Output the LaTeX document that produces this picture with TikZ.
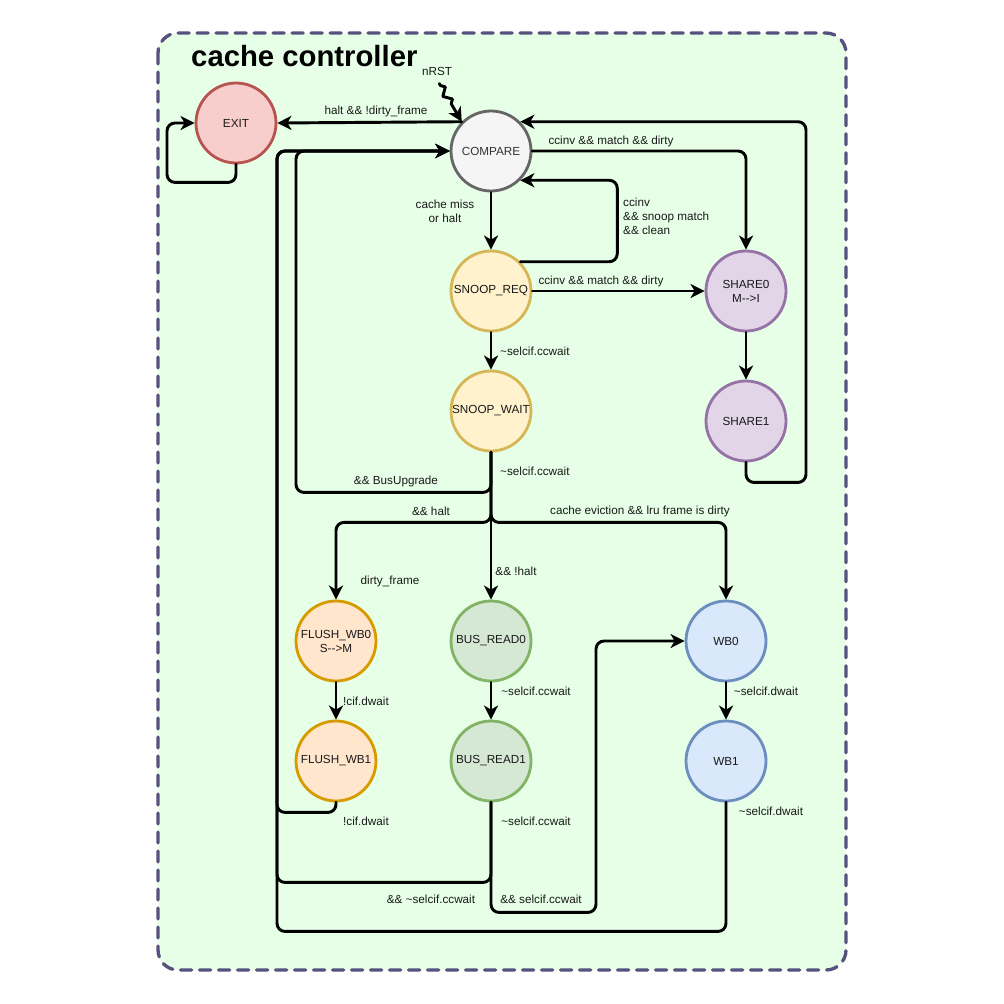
\documentclass[tikz,border=0pt]{standalone}
\usepackage{fontspec}
\setmainfont{Liberation Sans}
\usetikzlibrary{arrows.meta,decorations.pathmorphing}
\definecolor{bgfill}{HTML}{E6FFE6}
\definecolor{framec}{HTML}{56517E}
\definecolor{exitfill}{HTML}{F8CECC}\definecolor{exitdraw}{HTML}{B85450}
\definecolor{cmpfill}{HTML}{F5F5F5}\definecolor{cmpdraw}{HTML}{666666}
\definecolor{snpfill}{HTML}{FFF2CC}\definecolor{snpdraw}{HTML}{D6B656}
\definecolor{shrfill}{HTML}{E1D5E7}\definecolor{shrdraw}{HTML}{9673A6}
\definecolor{flfill}{HTML}{FFE6CC}\definecolor{fldraw}{HTML}{D79B00}
\definecolor{brfill}{HTML}{D5E8D4}\definecolor{brdraw}{HTML}{82B366}
\definecolor{wbfill}{HTML}{DAE8FC}\definecolor{wbdraw}{HTML}{6C8EBF}
\begin{document}
\begin{tikzpicture}[x=0.3mm,y=-0.3mm,line cap=round,line join=round,>={Stealth[length=12pt,width=12pt,inset=3.5pt]},
	state/.style={circle,draw,line width=2.4pt,minimum size=24mm,inner sep=0pt,align=center,font=\fontsize{10}{12}\selectfont,text=black!90},
	trans/.style={->,line width=2.5pt,rounded corners=2.4mm},
	lbl/.style={inner sep=0pt,align=center,font=\fontsize{10}{12}\selectfont,text=black!90}]
	\useasboundingbox (0,0) rectangle (1004,1003);
	\draw[draw=framec,fill=bgfill,line width=1mm,dash pattern=on 3.3mm off 2.4mm,rounded corners=6mm] (158,33) rectangle (846,970);
	\node[anchor=base west,inner sep=0pt,font=\fontsize{25}{30}\selectfont\bfseries] (title) at (191,66) {cache controller};
	\node[state,fill=exitfill,draw=exitdraw] (exit) at (236,123) {EXIT};
	\node[state,fill=cmpfill,draw=cmpdraw,text=black!80] (cmp) at (491,151) {COMPARE};
	\node[state,fill=snpfill,draw=snpdraw] (sreq) at (491,291) {SNOOP\_REQ};
	\node[state,fill=snpfill,draw=snpdraw] (swait) at (491,411) {SNOOP\_WAIT};
	\node[state,fill=shrfill,draw=shrdraw] (sh0) at (746,291) {SHARE0\\M-{}->I};
	\node[state,fill=shrfill,draw=shrdraw] (sh1) at (746,421) {SHARE1};
	\node[state,fill=flfill,draw=fldraw] (fwb0) at (336,641) {FLUSH\_WB0\\S-{}->M};
	\node[state,fill=flfill,draw=fldraw] (fwb1) at (336,761) {FLUSH\_WB1};
	\node[state,fill=brfill,draw=brdraw] (br0) at (491,641) {BUS\_READ0};
	\node[state,fill=brfill,draw=brdraw] (br1) at (491,761) {BUS\_READ1};
	\node[state,fill=wbfill,draw=wbdraw] (wb0) at (726,641) {WB0};
	\node[state,fill=wbfill,draw=wbdraw] (wb1) at (726,761) {WB1};
	\node[lbl] (rst) at (437,71) {nRST};
	\draw[->,line width=2.5pt,decorate,decoration={zigzag,segment length=12pt,amplitude=3pt,pre length=2pt,post length=16pt}] ([xshift=2pt,yshift=-7pt]rst.south) -- (cmp.north west);
	\draw[trans] (cmp.north west) -- (exit.east);
	\node[lbl] (lhalt) at (376,111) {halt \&\& !dirty\_frame};
	\draw[trans] (exit.south) -- ++(0,18) -- ++(-69,0) |- (exit.west);
	\draw[trans] (cmp) -- (sreq);
	\node[lbl] (lmiss) at (445,211) {cache miss\\or halt};
	\draw[trans] (sreq.north east) -- ++(97,0) |- (cmp.south east);
	\node[lbl,anchor=west,align=left] (lclean) at (623,216) {ccinv\\\&\& snoop match\\\&\& clean};
	\draw[trans] (cmp.east) -| (sh0.north);
	\node[lbl] (ldirty1) at (611,141) {ccinv \&\& match \&\& dirty};
	\draw[trans] (sreq) -- (sh0);
	\node[lbl] (ldirty2) at (601,281) {ccinv \&\& match \&\& dirty};
	\draw[trans] (sh0) -- (sh1);
	\draw[trans] (sh1.south) -- ++(0,20) -- ++(60,0) |- (cmp.north east);
	\draw[trans] (sreq) -- (swait);
	\node[lbl,anchor=west] (lsw1) at (500,351) {\textasciitilde selcif.ccwait};
	\draw[trans] (swait.south) -- ++(0,40) -- ++(-195,0) |- (cmp.west);
	\node[lbl] (lupg) at (396,481) {\&\& BusUpgrade};
	\node[lbl,anchor=west] (lsw2) at (500,471) {\textasciitilde selcif.ccwait};
	\draw[trans] (swait.south) -- ++(0,70) -| (fwb0.north);
	\node[lbl] (lhalt2) at (431,511) {\&\& halt};
	\node[lbl] (ldframe) at (390,581) {dirty\_frame};
	\draw[trans] (swait) -- (br0);
	\node[lbl] (lnhalt) at (516,571) {\&\& !halt};
	\draw[trans] (swait.south) -- ++(0,70) -| (wb0.north);
	\node[lbl] (levict) at (640,511) {cache eviction \&\& lru frame is dirty};
	\draw[trans] (fwb0) -- (fwb1);
	\node[lbl] (lfl1) at (366,701) {!cif.dwait};
	\draw[trans] (br0) -- (br1);
	\node[lbl] (lbr1) at (536,691) {\textasciitilde selcif.ccwait};
	\draw[trans] (wb0) -- (wb1);
	\node[lbl] (lwb1) at (766,691) {\textasciitilde selcif.dwait};
	\draw[trans] (fwb1.south) -- ++(0,10) -- ++(-59,0) |- (cmp.west);
	\node[lbl] (lfl2) at (366,821) {!cif.dwait};
	\draw[trans] (br1.south) -- ++(0,80) -- ++(-214,0) |- (cmp.west);
	\node[lbl] (lbr2) at (536,821) {\textasciitilde selcif.ccwait};
	\node[lbl] (lbrc) at (431,899) {\&\& \textasciitilde selcif.ccwait};
	\draw[trans] (br1.south) -- ++(0,110) -- ++(105,0) |- (wb0.west);
	\node[lbl] (lbrw) at (541,899) {\&\& selcif.ccwait};
	\draw[trans] (wb1.south) -- ++(0,129) -- ++(-449,0) |- (cmp.west);
	\node[lbl] (lwb2) at (771,811) {\textasciitilde selcif.dwait};
\end{tikzpicture}
\end{document}
